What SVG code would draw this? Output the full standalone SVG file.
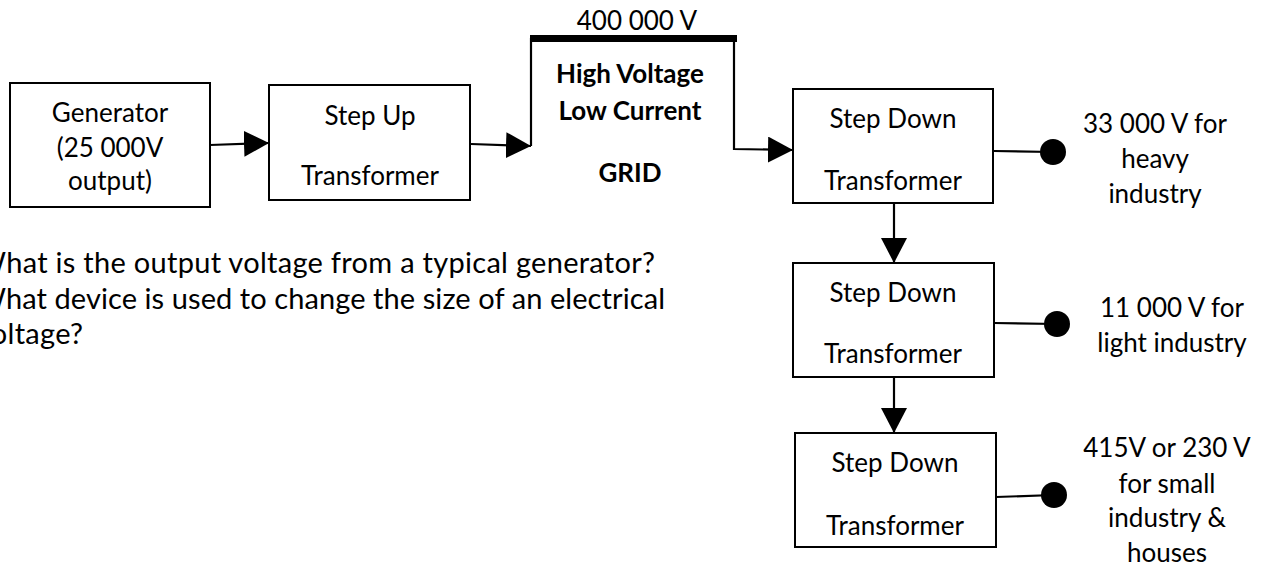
<svg xmlns="http://www.w3.org/2000/svg" width="1268" height="568" viewBox="0 0 1268 568">
<style>
.box{fill:#fff;stroke:#000;stroke-width:2}
.t{font-family:Lato,"Open Sans","Liberation Sans",sans-serif;font-size:26px;fill:#000;text-anchor:middle}
.b{font-weight:bold}
.q{text-anchor:start;font-size:29px}
.ln{stroke:#000;stroke-width:2.2;fill:none}
.dot{fill:#000}
</style>
<defs>
<marker id="ah" viewBox="0 0 25 26" refX="25" refY="13" markerWidth="25" markerHeight="26" markerUnits="userSpaceOnUse" orient="auto">
<path d="M0,0 L25,13 L0,26 Z" fill="#000"/>
</marker>
</defs>
<rect width="1268" height="568" fill="#fff"/>
<g id="connectors">
<line class="ln" x1="210" y1="145" x2="269" y2="143" marker-end="url(#ah)"/>
<line class="ln" x1="471" y1="144" x2="531" y2="146" marker-end="url(#ah)"/>
<polyline class="ln" points="531,146 531,38"/>
<line x1="530" y1="38.5" x2="737" y2="38.5" stroke="#000" stroke-width="7"/>
<polyline class="ln" points="734,38 734,149 793,150" marker-end="url(#ah)"/>
<line class="ln" x1="994" y1="151" x2="1053" y2="152"/>
<circle class="dot" cx="1053" cy="152" r="13"/>
<line class="ln" x1="894" y1="203" x2="894" y2="263" marker-end="url(#ah)"/>
<line class="ln" x1="994" y1="323" x2="1057" y2="324"/>
<circle class="dot" cx="1057" cy="324" r="13"/>
<line class="ln" x1="894" y1="377" x2="894" y2="433" marker-end="url(#ah)"/>
<line class="ln" x1="996" y1="497" x2="1054" y2="495"/>
<circle class="dot" cx="1054" cy="495" r="13"/>
</g>
<g id="generator">
<rect class="box" x="10" y="83" width="200" height="124"/>
<text class="t" x="110" y="122">Generator</text>
<text class="t" x="110" y="157">(25 000V</text>
<text class="t" x="110" y="190">output)</text>
</g>
<g id="step-up">
<rect class="box" x="269" y="85" width="201" height="115"/>
<text class="t" x="370" y="125">Step Up</text>
<text class="t" x="370" y="185">Transformer</text>
</g>
<g id="grid">
<text class="t" x="637" y="30">400 000 V</text>
<text class="t b" x="630" y="83">High Voltage</text>
<text class="t b" x="630" y="120">Low Current</text>
<text class="t b" x="630" y="182">GRID</text>
</g>
<g id="step-down-1">
<rect class="box" x="793" y="89" width="200" height="114"/>
<text class="t" x="893" y="128">Step Down</text>
<text class="t" x="893" y="190">Transformer</text>
</g>
<g id="step-down-2">
<rect class="box" x="793" y="263" width="201" height="114"/>
<text class="t" x="893" y="302">Step Down</text>
<text class="t" x="893" y="363">Transformer</text>
</g>
<g id="step-down-3">
<rect class="box" x="795" y="433" width="201" height="114"/>
<text class="t" x="895" y="472">Step Down</text>
<text class="t" x="895" y="535">Transformer</text>
</g>
<g id="label-heavy">
<text class="t" x="1155" y="133">33 000 V for</text>
<text class="t" x="1155" y="168">heavy</text>
<text class="t" x="1155" y="203">industry</text>
</g>
<g id="label-light">
<text class="t" x="1172" y="317">11 000 V for</text>
<text class="t" x="1172" y="352">light industry</text>
</g>
<g id="label-small">
<text class="t" x="1167" y="457">415V or 230 V</text>
<text class="t" x="1167" y="493">for small</text>
<text class="t" x="1167" y="527">industry &amp;</text>
<text class="t" x="1167" y="562">houses</text>
</g>
<g id="questions">
<text class="t q" x="-24" y="273" textLength="679">What is the output voltage from a typical generator?</text>
<text class="t q" x="-24" y="309" textLength="689">What device is used to change the size of an electrical</text>
<text class="t q" x="-24" y="344" textLength="107">voltage?</text>
</g>
</svg>
